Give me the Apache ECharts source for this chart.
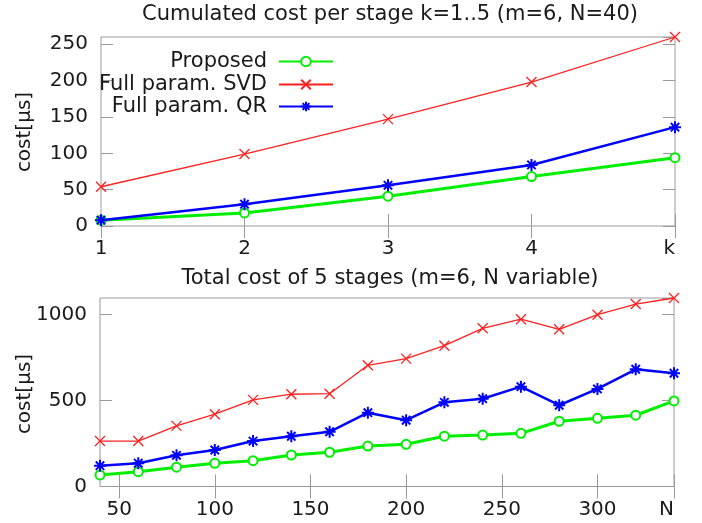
<!DOCTYPE html>
<html>
<head>
<meta charset="utf-8">
<script src="https://cdn.jsdelivr.net/npm/echarts@6/dist/echarts.min.js"></script>
<style>
html,body{margin:0;padding:0;background:#fff;}
#c{width:702px;height:523px;}
</style>
</head>
<body>
<div id="c"></div>
<script>
// ---- data ----
const stageK = [1, 2, 3, 4, 5];
const stageTickLabels = ['1', '2', '3', '4', 'k'];
const stageProposed = [8, 18, 41, 68, 94];
const stageSVD = [54, 99, 147, 198, 260];
const stageQR = [8, 30, 56, 84, 136];

const sizeN = [40, 60, 80, 100, 120, 140, 160, 180, 200, 220, 240, 260, 280, 300, 320, 340];
const totalProposed = [67, 86, 112, 135, 150, 183, 199, 235, 245, 292, 299, 309, 379, 396, 414, 497];
const totalSVD = [264, 264, 352, 420, 503, 536, 539, 704, 743, 818, 919, 972, 913, 998, 1060, 1095];
const totalQR = [121, 135, 181, 212, 264, 292, 318, 429, 385, 489, 510, 580, 472, 567, 681, 658];
const sizeTickValues = [50, 100, 150, 200, 250, 300, 340];
const sizeTickLabels = ['50', '100', '150', '200', '250', '300', 'N'];

const names = ['Proposed', 'Full param. SVD', 'Full param. QR'];

// ---- styling ----
const FONT = '"DejaVu Sans", sans-serif';
const TXT = '#1a1a1a';
const GRAY = '#9a9a9a';
const GREEN = '#00ee00';
const RED = '#ff2020';
const BLUE = '#0000ff';
const X_PATH = 'path://M0,0L8,10M8,0L0,10';
const STAR_PATH = 'path://M5,0L5,10M0,5L10,5M1.5,1.5L8.5,8.5M8.5,1.5L1.5,8.5';

function pairs(xs, ys) { return xs.map((x, i) => [x, ys[i]]); }

const tickStyle = { show: true, inside: true, length: 12, lineStyle: { color: GRAY, width: 1 } };
const labelStyle = { color: TXT, fontSize: 20, fontFamily: FONT };

function xAxes(gridIndex, min, max, interval, labels, customValues) {
  const lab = Object.assign({}, labelStyle, {
    margin: 13,
    alignMaxLabel: 'right',
    formatter: function (v) {
      if (customValues) {
        const i = customValues.indexOf(v);
        return i >= 0 ? labels[i] : '';
      }
      const i = Math.round(v - min);
      return labels[i] !== undefined ? labels[i] : '';
    }
  });
  const t = Object.assign({}, tickStyle);
  if (customValues) { lab.customValues = customValues; t.customValues = customValues; }
  const base = { type: 'value', gridIndex: gridIndex, min: min, max: max, splitLine: { show: false }, axisLine: { show: false } };
  if (interval) base.interval = interval;
  return [
    Object.assign({}, base, { position: 'bottom', axisTick: t, axisLabel: lab }),
    Object.assign({}, base, { position: 'top', axisTick: t, axisLabel: { show: false } })
  ];
}
function yAxes(gridIndex, max, interval) {
  const base = { type: 'value', gridIndex: gridIndex, min: 0, max: max, interval: interval, splitLine: { show: false }, axisLine: { show: false } };
  return [
    Object.assign({}, base, { position: 'left', axisTick: tickStyle,
      axisLabel: Object.assign({}, labelStyle, { margin: 13, showMaxLabel: false, formatter: function (v) { return String(v); } }) }),
    Object.assign({}, base, { position: 'right', axisTick: tickStyle, axisLabel: { show: false } })
  ];
}

function seriesSet(xIdx, yIdx, xs, p, s, q) {
  return [
    { name: names[0], type: 'line', xAxisIndex: xIdx, yAxisIndex: yIdx, data: pairs(xs, p),
      symbol: 'emptyCircle', symbolSize: 9,
      lineStyle: { color: GREEN, width: 3 },
      itemStyle: { color: GREEN, borderColor: GREEN, borderWidth: 2 }, z: 4 },
    { name: names[1], type: 'line', xAxisIndex: xIdx, yAxisIndex: yIdx, data: pairs(xs, s),
      symbol: X_PATH, symbolSize: 10,
      lineStyle: { color: RED, width: 1.3 },
      itemStyle: { color: RED, borderColor: RED, borderWidth: 1.3 }, z: 3 },
    { name: names[2], type: 'line', xAxisIndex: xIdx, yAxisIndex: yIdx, data: pairs(xs, q),
      symbol: STAR_PATH, symbolSize: 12,
      lineStyle: { color: BLUE, width: 2.5 },
      itemStyle: { color: BLUE, borderColor: BLUE, borderWidth: 2 }, z: 5 }
  ];
}

function legendRow(name, top) {
  return { data: [name], right: 363, top: top, orient: 'vertical', align: 'right',
    itemWidth: 54, itemHeight: 12, selectedMode: false,
    textStyle: { color: TXT, fontSize: 21, fontFamily: FONT, padding: [0, 7, 0, 0] } };
}

function txt(text, x, y, rot, size) {
  return { type: 'text', x: x, y: y, rotation: rot || 0, silent: true,
    style: { text: text, fill: TXT, font: (size || 20) + 'px ' + FONT, align: 'center', verticalAlign: 'middle' } };
}

const chart = echarts.init(document.getElementById('c'), null, { renderer: 'canvas' });
chart.setOption({
  animation: false,
  backgroundColor: '#fff',
  grid: [
    { left: 101, top: 37, width: 574, height: 189, show: true, borderColor: GRAY, borderWidth: 1, backgroundColor: 'transparent' },
    { left: 100, top: 298, width: 574, height: 188.5, show: true, borderColor: GRAY, borderWidth: 1, backgroundColor: 'transparent' }
  ],
  xAxis: [].concat(
    xAxes(0, 1, 5, 1, stageTickLabels, null),
    xAxes(1, 40, 340, null, sizeTickLabels, sizeTickValues)
  ),
  yAxis: [].concat(yAxes(0, 260, 50), yAxes(1, 1095, 500)),
  legend: [legendRow(names[0], 46), legendRow(names[1], 69), legendRow(names[2], 91)],
  series: [].concat(
    seriesSet(0, 0, stageK, stageProposed, stageSVD, stageQR),
    seriesSet(2, 2, sizeN, totalProposed, totalSVD, totalQR)
  ),
  graphic: [
    txt('Cumulated cost per stage k=1..5 (m=6, N=40)', 390, 15, 0, 21),
    txt('Total cost of 5 stages (m=6, N variable)', 390, 279, 0, 21),
    txt('cost[µs]', 25, 132, Math.PI / 2, 20),
    txt('cost[µs]', 25, 394, Math.PI / 2, 20)
  ]
});
</script>
</body>
</html>
